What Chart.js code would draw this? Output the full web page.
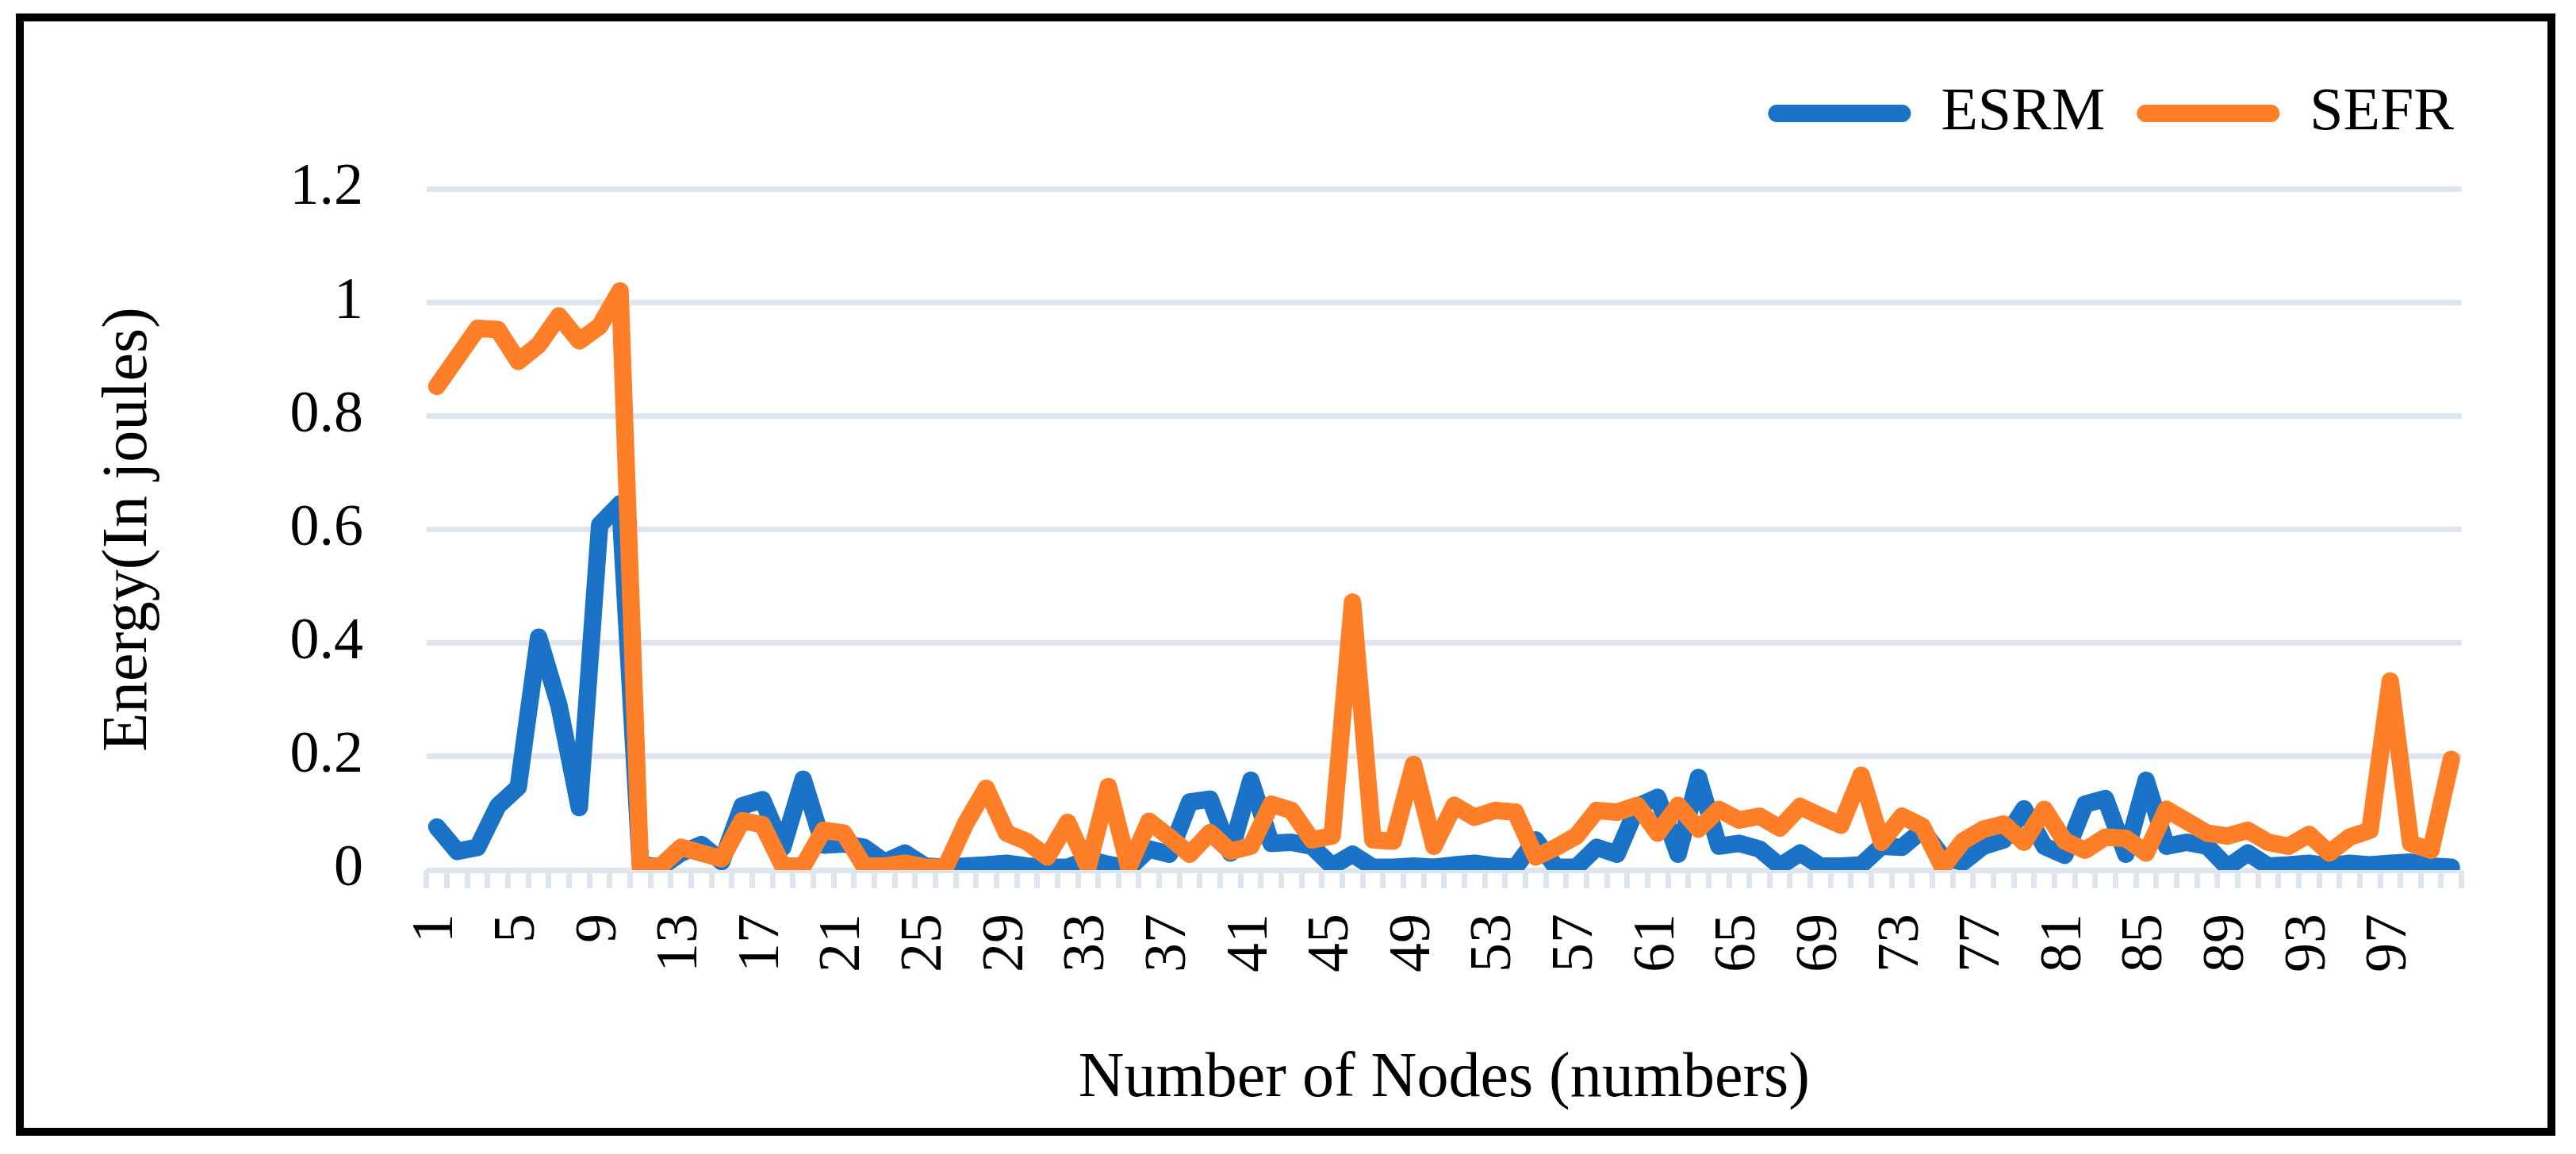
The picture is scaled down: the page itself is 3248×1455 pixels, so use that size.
<!DOCTYPE html>
<html>
<head>
<meta charset="utf-8">
<script src="https://cdn.jsdelivr.net/npm/chart.js@4/dist/chart.umd.min.js"></script>
<style>
  body { margin: 0; background: #fff; width: 3248px; height: 1455px; position: relative; }
  .frame { position: absolute; left: 20px; top: 17px; width: 3202px; height: 1415px;
           box-sizing: border-box; border: 10px solid #000; background: #fff; }
  .frame canvas { display: block; }
</style>
</head>
<body>
<div class="frame"><canvas id="c" width="3182" height="1395"></canvas></div>
<script>
// ── Data ────────────────────────────────────────────────
const nodes = Array.from({ length: 100 }, (_, i) => String(i + 1));

const esrm = [
  0.076, 0.033, 0.040, 0.113, 0.146, 0.410, 0.290, 0.110, 0.608, 0.645,
  0.010, 0.005, 0.030, 0.045, 0.015, 0.113, 0.124, 0.040, 0.160, 0.044,
  0.046, 0.040, 0.014, 0.030, 0.007, 0.005, 0.007, 0.009, 0.012, 0.007,
  0.005, 0.005, 0.019, 0.010, 0.003, 0.037, 0.028, 0.120, 0.125, 0.030,
  0.158, 0.047, 0.049, 0.042, 0.007, 0.028, 0.005, 0.005, 0.007, 0.005,
  0.009, 0.012, 0.007, 0.005, 0.053, 0.005, 0.005, 0.040, 0.028, 0.112,
  0.128, 0.028, 0.163, 0.042, 0.047, 0.037, 0.007, 0.030, 0.007, 0.007,
  0.009, 0.042, 0.040, 0.070, 0.023, 0.014, 0.042, 0.053, 0.108, 0.042,
  0.026, 0.116, 0.126, 0.028, 0.158, 0.042, 0.049, 0.042, 0.005, 0.030,
  0.007, 0.009, 0.012, 0.007, 0.012, 0.009, 0.012, 0.014, 0.007, 0.005
];

const sefr = [
  0.852, 0.903, 0.954, 0.952, 0.896, 0.925, 0.976, 0.932, 0.958, 1.020,
  0.005, 0.007, 0.040, 0.030, 0.020, 0.087, 0.080, 0.007, 0.007, 0.070,
  0.065, 0.007, 0.007, 0.012, 0.005, 0.005, 0.083, 0.144, 0.065, 0.050,
  0.023, 0.084, 0.005, 0.147, 0.005, 0.086, 0.058, 0.028, 0.066, 0.033,
  0.042, 0.116, 0.105, 0.053, 0.060, 0.472, 0.053, 0.051, 0.186, 0.042,
  0.114, 0.093, 0.105, 0.102, 0.023, 0.040, 0.060, 0.105, 0.102, 0.114,
  0.065, 0.114, 0.072, 0.107, 0.088, 0.095, 0.074, 0.112, 0.095, 0.079,
  0.167, 0.049, 0.095, 0.077, 0.005, 0.051, 0.072, 0.081, 0.049, 0.107,
  0.051, 0.035, 0.058, 0.056, 0.030, 0.107, 0.086, 0.065, 0.060, 0.070,
  0.049, 0.042, 0.063, 0.030, 0.058, 0.070, 0.333, 0.047, 0.035, 0.195
];

const yTicks = [0, 0.2, 0.4, 0.6, 0.8, 1, 1.2];

// ── Style ───────────────────────────────────────────────
const BLUE = '#1a73c6';
const ORANGE = '#fe7f28';
const GRID = '#dfe5ec';
const FONT = '"Liberation Serif", "DejaVu Serif", serif';

// legend gets some extra room below it
const legendGap = {
  id: 'legendGap',
  beforeInit(chart) {
    const fit = chart.legend.fit;
    chart.legend.fit = function () { fit.bind(chart.legend)(); this.height += 47; };
  }
};

new Chart(document.getElementById('c'), {
  type: 'line',
  data: {
    labels: nodes,
    datasets: [
      { label: 'ESRM', data: esrm, borderColor: BLUE, backgroundColor: BLUE, order: 1 },
      { label: 'SEFR', data: sefr, borderColor: ORANGE, backgroundColor: ORANGE, order: 0 }
    ]
  },
  options: {
    responsive: false,
    animation: false,
    layout: { padding: { top: 38, right: 78, left: 0, bottom: 0 } },
    elements: {
      line: { borderWidth: 22, tension: 0, borderJoinStyle: 'round', borderCapStyle: 'round', fill: false },
      point: { radius: 0, hoverRadius: 0 }
    },
    plugins: {
      tooltip: { enabled: false },
      legend: {
        position: 'top',
        align: 'end',
        labels: {
          font: { family: FONT, size: 76 },
          color: '#000',
          boxWidth: 180,
          boxHeight: 22,
          padding: 40,
          useBorderRadius: true,
          borderRadius: 11,
          sort: (a, b) => a.datasetIndex - b.datasetIndex,
          generateLabels: chart => Chart.defaults.plugins.legend.labels.generateLabels(chart)
            .map(l => ({ ...l, lineWidth: 0 }))
        }
      }
    },
    scales: {
      x: {
        offset: true,
        grid: { offset: true, drawOnChartArea: false, drawTicks: true, tickLength: 23, tickWidth: 7, tickColor: GRID },
        border: { display: false },
        ticks: {
          autoSkip: false,
          minRotation: 90,
          maxRotation: 90,
          padding: 32,
          color: '#000',
          font: { family: FONT, size: 74 },
          callback: function (v, i) { return i % 4 === 0 ? this.getLabelForValue(v) : ''; }
        },
        title: {
          display: true,
          text: 'Number of Nodes (numbers)',
          color: '#000',
          font: { family: FONT, size: 80 },
          padding: { top: 0, bottom: 13 }
        },
        afterFit: s => { s.height = 325; }
      },
      y: {
        min: 0,
        max: 1.2,
        afterBuildTicks: s => { s.ticks = yTicks.map(v => ({ value: v })); },
        grid: { color: GRID, lineWidth: 7, drawTicks: false },
        border: { display: false },
        ticks: {
          padding: 80,
          color: '#000',
          font: { family: FONT, size: 74 },
          callback: v => String(Number(v.toFixed(1)))
        },
        title: {
          display: true,
          text: 'Energy(In joules)',
          color: '#000',
          font: { family: FONT, size: 80 },
          padding: { top: 85, bottom: 0 }
        },
        afterFit: s => { s.width = 508; }
      }
    }
  },
  plugins: [legendGap]
});
</script>
</body>
</html>
